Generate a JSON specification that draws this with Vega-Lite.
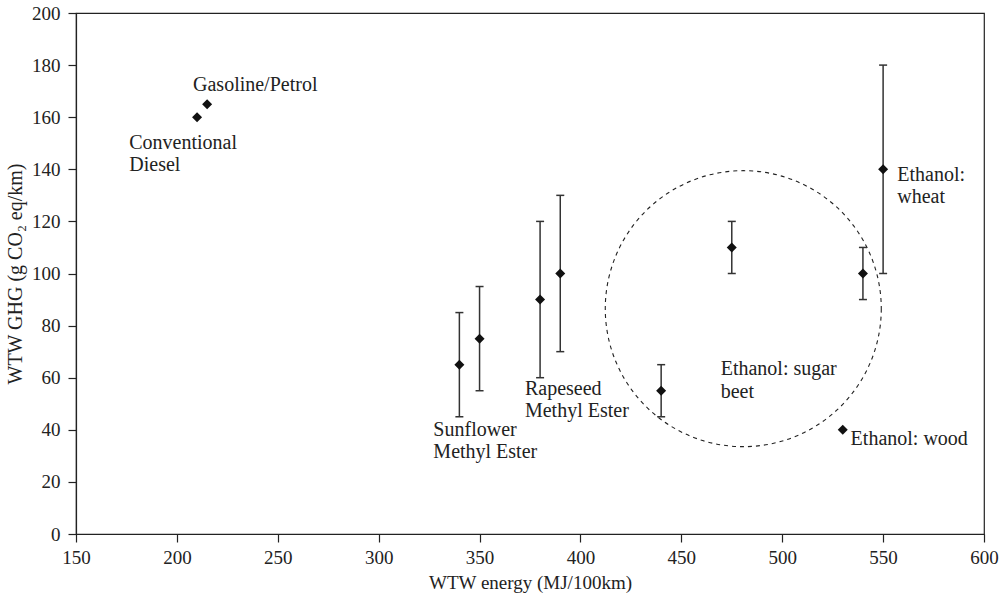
{
  "$schema": "https://vega.github.io/schema/vega-lite/v6.json",
  "autosize": {"type": "none"},
  "padding": {"left": 76, "top": 13, "right": 23, "bottom": 65},
  "width": 908,
  "height": 521,
  "background": "white",
  "config": {
    "font": "Liberation Serif",
    "view": {"stroke": "#222", "strokeWidth": 1.2},
    "axis": {
      "grid": false,
      "domainColor": "#222",
      "domainWidth": 1.2,
      "tickColor": "#222",
      "tickWidth": 1.2,
      "tickSize": 8,
      "labelFlush": false,
      "labelOverlap": false,
      "labelFont": "Liberation Serif",
      "labelFontSize": 19,
      "labelColor": "#222",
      "titleFont": "Liberation Serif",
      "titleFontSize": 19,
      "titleFontWeight": "normal",
      "titleColor": "#222"
    }
  },
  "datasets": {
    "pts": [
      {"name": "Conventional Diesel", "x": 210, "y": 160, "lo": null, "hi": null},
      {"name": "Gasoline/Petrol", "x": 215, "y": 165, "lo": null, "hi": null},
      {"name": "Sunflower Methyl Ester A", "x": 340, "y": 65, "lo": 45, "hi": 85},
      {"name": "Sunflower Methyl Ester B", "x": 350, "y": 75, "lo": 55, "hi": 95},
      {"name": "Rapeseed Methyl Ester A", "x": 380, "y": 90, "lo": 60, "hi": 120},
      {"name": "Rapeseed Methyl Ester B", "x": 390, "y": 100, "lo": 70, "hi": 130},
      {"name": "Ethanol: sugar beet A", "x": 440, "y": 55, "lo": 45, "hi": 65},
      {"name": "Ethanol: sugar beet B", "x": 475, "y": 110, "lo": 100, "hi": 120},
      {"name": "Ethanol: sugar beet C", "x": 540, "y": 100, "lo": 90, "hi": 110},
      {"name": "Ethanol: wheat", "x": 550, "y": 140, "lo": 100, "hi": 180},
      {"name": "Ethanol: wood", "x": 530, "y": 40, "lo": null, "hi": null}
    ],
    "labels": [
      {"text": "Gasoline/Petrol", "lx": 208, "ly": 172.4},
      {"text": "Conventional", "lx": 176.4, "ly": 150},
      {"text": "Diesel", "lx": 176.4, "ly": 141.7},
      {"text": "Sunflower", "lx": 327.1, "ly": 39.9},
      {"text": "Methyl Ester", "lx": 327.1, "ly": 31.6},
      {"text": "Rapeseed", "lx": 372.5, "ly": 55.5},
      {"text": "Methyl Ester", "lx": 372.5, "ly": 47.3},
      {"text": "Ethanol: sugar", "lx": 469.5, "ly": 63.2},
      {"text": "beet", "lx": 469.5, "ly": 54.6},
      {"text": "Ethanol:", "lx": 557, "ly": 137.8},
      {"text": "wheat", "lx": 557, "ly": 129.5},
      {"text": "Ethanol: wood", "lx": 533.9, "ly": 36.3}
    ],
    "circle": [
      {"cx": 480.7, "cy": 86.5}
    ]
  },
  "layer": [
    {
      "data": {"name": "circle"},
      "mark": {"type": "point", "shape": "circle", "size": 76176, "filled": false, "stroke": "#222", "strokeWidth": 1.1, "strokeDash": [4, 4], "opacity": 1},
      "encoding": {
        "x": {"field": "cx", "type": "quantitative", "scale": {"domain": [150, 600], "nice": false, "zero": false},
              "axis": {"values": [150, 200, 250, 300, 350, 400, 450, 500, 550, 600], "labelPadding": 6, "title": "WTW energy (MJ/100km)", "titleBaseline": "middle", "titleY": 48}},
        "y": {"field": "cy", "type": "quantitative", "scale": {"domain": [0, 200], "nice": false, "zero": true},
              "axis": {"values": [0, 20, 40, 60, 80, 100, 120, 140, 160, 180, 200], "labelPadding": 8, "title": "WTW GHG (g CO₂ eq/km)", "titleFontSize": 20, "titleBaseline": "middle", "titleX": -61}}
      }
    },
    {
      "data": {"name": "pts"},
      "transform": [{"filter": "datum.lo != null"}],
      "mark": {"type": "rule", "stroke": "#333", "strokeWidth": 1.5},
      "encoding": {
        "x": {"field": "x", "type": "quantitative"},
        "y": {"field": "lo", "type": "quantitative"},
        "y2": {"field": "hi"}
      }
    },
    {
      "data": {"name": "pts"},
      "transform": [{"filter": "datum.lo != null"}],
      "mark": {"type": "tick", "orient": "horizontal", "size": 8, "thickness": 1.5, "color": "#333", "opacity": 1},
      "encoding": {
        "x": {"field": "x", "type": "quantitative"},
        "y": {"field": "lo", "type": "quantitative"}
      }
    },
    {
      "data": {"name": "pts"},
      "transform": [{"filter": "datum.lo != null"}],
      "mark": {"type": "tick", "orient": "horizontal", "size": 8, "thickness": 1.5, "color": "#333", "opacity": 1},
      "encoding": {
        "x": {"field": "x", "type": "quantitative"},
        "y": {"field": "hi", "type": "quantitative"}
      }
    },
    {
      "data": {"name": "pts"},
      "mark": {"type": "point", "shape": "diamond", "size": 100, "filled": true, "color": "#111", "opacity": 1},
      "encoding": {
        "x": {"field": "x", "type": "quantitative"},
        "y": {"field": "y", "type": "quantitative"},
        "tooltip": {"field": "name", "type": "nominal"}
      }
    },
    {
      "data": {"name": "labels"},
      "mark": {"type": "text", "align": "left", "baseline": "middle", "font": "Liberation Serif", "fontSize": 20, "color": "#222"},
      "encoding": {
        "x": {"field": "lx", "type": "quantitative"},
        "y": {"field": "ly", "type": "quantitative"},
        "text": {"field": "text", "type": "nominal"}
      }
    }
  ]
}
